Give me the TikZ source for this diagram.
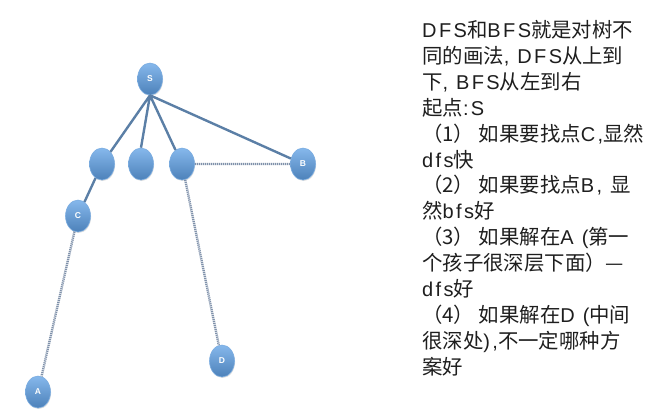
\documentclass[tikz,border=0pt]{standalone}
\usepackage{fontspec}
\setmainfont{Liberation Sans}[LetterSpace=12]
\newfontfamily\cjk{Noto Sans CJK SC}[Scale=1.02]
\newfontfamily\lblfont{Liberation Sans}
\newcommand\zh[1]{{\cjk #1}}
\usepackage{tikz}
\usetikzlibrary{shapes.geometric,shadows}

\definecolor{ballblue}{HTML}{5A98DA}
\definecolor{balltop}{HTML}{86B8EC}
\definecolor{edgeblue}{HTML}{5B7FA6}
\definecolor{dotgrey}{HTML}{7F91AA}
\definecolor{notetext}{HTML}{1E1E1E}

\tikzset{
  vtx/.style={ellipse,minimum width=25pt,minimum height=32pt,inner sep=0pt,
    top color=balltop,bottom color=ballblue!85!black,draw=ballblue!80!white,line width=0.6pt,
    drop shadow={opacity=0.25,shadow xshift=0.6pt,shadow yshift=-1pt},
    text=white,font=\lblfont\bfseries\fontsize{8.5}{9}\selectfont},
  solidedge/.style={edgeblue,line width=2.4pt},
  dotedge/.style={dotgrey,line width=2.4pt,dash pattern=on 1.2pt off 0.8pt},
  note/.style={anchor=base west,inner sep=0pt,text=notetext,font=\fontsize{20}{24}\selectfont}
}

\begin{document}
\begin{tikzpicture}[x=1pt,y=-1pt]
          \useasboundingbox (0,0) rectangle (657,416);
          % tree
          \node[vtx] (S) at (150,79) {S};
          \node[vtx] (n1) at (102,164) {};
          \node[vtx] (n2) at (141,164) {};
          \node[vtx] (n3) at (182,164) {};
          \node[vtx] (B) at (303,164) {B};
          \node[vtx] (C) at (78,216) {C};
          \node[vtx] (A) at (38,392) {A};
          \node[vtx] (D) at (222,361) {D};
          \draw[solidedge] (S.south) -- (n1) (S.south) -- (n2.north) (S.south) -- (n3) (S.south) -- (B);
          \draw[solidedge] (n1) -- (C);
          \draw[dotedge] (n3) -- (B) (n3) -- (D) (C) -- (A);
          % notes
          \node[note] (l1) at (422,37.5) {DFS\zh{和}BFS\zh{就是对树不}};
          \node[note] (l2) at (422,63.5) {\zh{同的画法}, DFS\zh{从上到}};
          \node[note] (l3) at (422,89.5) {\zh{下}, BFS\zh{从左到右}};
          \node[note] (l4) at (422,115.5) {\zh{起点}:S};
          \node[note] (l5) at (422,141.5) {\zh{（1） 如果要找点}C,\zh{显然}};
          \node[note] (l6) at (422,167.5) {dfs\zh{快}};
          \node[note] (l7) at (422,192.5) {\zh{（2） 如果要找点}B, \zh{显}};
          \node[note] (l8) at (422,218.5) {\zh{然}bfs\zh{好}};
          \node[note] (l9) at (422,244.5) {\zh{（3） 如果解在}A (\zh{第一}};
          \node[note] (l10) at (422,270.5) {\zh{个孩子很深层下面）—}};
          \node[note] (l11) at (422,296.5) {dfs\zh{好}};
          \node[note] (l12) at (422,322.5) {\zh{（4） 如果解在}D (\zh{中间}};
          \node[note] (l13) at (422,348.5) {\zh{很深处}),\zh{不一定哪种方}};
          \node[note] (l14) at (422,374.5) {\zh{案好}};
        \end{tikzpicture}
\end{document}
